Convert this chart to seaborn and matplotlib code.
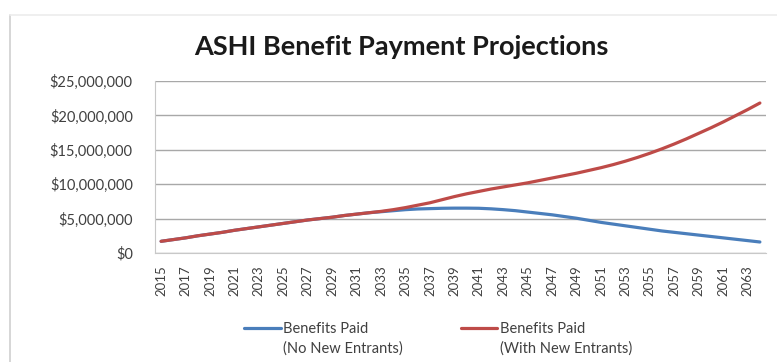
import numpy as np
import pandas as pd
import matplotlib
matplotlib.use("Agg")
import matplotlib.pyplot as plt
import seaborn as sns
from matplotlib.legend_handler import HandlerLine2D
from matplotlib.lines import Line2D
from matplotlib.ticker import FuncFormatter

years = list(range(2015, 2065))
with_new = [1.70, 1.95, 2.20, 2.50, 2.75, 3.00, 3.30, 3.55, 3.80, 4.05,
            4.30, 4.55, 4.80, 5.00, 5.20, 5.45, 5.65, 5.85, 6.05, 6.30,
            6.60, 6.95, 7.30, 7.75, 8.20, 8.60, 8.95, 9.30, 9.60, 9.90,
            10.20, 10.55, 10.90, 11.25, 11.60, 12.00, 12.40, 12.85, 13.35, 13.90,
            14.50, 15.15, 15.85, 16.60, 17.40, 18.20, 19.05, 19.95, 20.85, 21.80]
no_new = [1.70, 1.95, 2.20, 2.50, 2.75, 3.00, 3.30, 3.55, 3.80, 4.05,
          4.30, 4.55, 4.80, 5.00, 5.20, 5.45, 5.65, 5.85, 6.00, 6.15,
          6.30, 6.40, 6.45, 6.50, 6.52, 6.52, 6.50, 6.42, 6.30, 6.15,
          5.95, 5.75, 5.55, 5.30, 5.05, 4.75, 4.45, 4.20, 3.95, 3.70,
          3.45, 3.20, 3.00, 2.80, 2.60, 2.40, 2.20, 2.00, 1.80, 1.60]
series_names = ["Benefits Paid\n(No New Entrants)", "Benefits Paid\n(With New Entrants)"]
title = "ASHI Benefit Payment Projections"

df = pd.DataFrame({
    "Year": years * 2,
    "Value": [v * 1e6 for v in no_new] + [v * 1e6 for v in with_new],
    "Series": [series_names[0]] * len(years) + [series_names[1]] * len(years),
})

sns.set_style("white")
plt.rcParams["font.family"] = ["Lato", "DejaVu Sans"]

fig = plt.figure(figsize=(7.77, 3.62), dpi=100)
ax = fig.add_axes([155 / 777, 1 - 253 / 362, (766 - 155) / 777, (253 - 81) / 362])

palette = {series_names[0]: "#4a7ebb", series_names[1]: "#be4b48"}
sns.lineplot(data=df, x="Year", y="Value", hue="Series", palette=palette,
             linewidth=2.3, ax=ax, legend=False)

ax.set_xlim(2014.5, 2064.5)
ax.set_ylim(0, 25e6)
ax.set_yticks(np.arange(0, 25e6 + 1, 5e6))
ax.yaxis.set_major_formatter(FuncFormatter(lambda v, p: f"${v:,.0f}"))
ax.set_xticks(years)
ax.set_xticklabels([str(y) if (y - 2015) % 2 == 0 else "" for y in years],
                   rotation=90, fontsize=9.5, color="#404040")
ax.tick_params(axis="y", labelsize=10.5, colors="#404040", length=5, width=0.8,
               color="#a8a8a8", pad=11)
ax.tick_params(axis="x", length=3, width=0.6, color="#a8a8a8", pad=6)
ax.grid(axis="y", color="#a8a8a8", linewidth=1.0)
ax.set_axisbelow(True)
for s in ["top", "right"]:
    ax.spines[s].set_visible(False)
ax.spines["left"].set_color("#c8c8c8")
ax.spines["bottom"].set_color("#c8c8c8")
ax.set_xlabel("")
ax.set_ylabel("")

fig.text(401 / 777, 1 - 47 / 362, title, ha="center", va="center",
         fontsize=19.5, fontweight="bold", color="#1a1a1a")

# chart border
fig.add_artist(Line2D([10 / 777, 10 / 777], [0, 1 - 15 / 362], transform=fig.transFigure,
                      color="#cfcfcf", linewidth=1.2))
fig.add_artist(Line2D([10 / 777, 1], [1 - 15 / 362, 1 - 15 / 362], transform=fig.transFigure,
                      color="#ececec", linewidth=1.2))


class FirstLineHandler(HandlerLine2D):
    def create_artists(self, legend, orig_handle, xdescent, ydescent, width, height,
                       fontsize, trans):
        arts = super().create_artists(legend, orig_handle, xdescent, ydescent, width,
                                      height, fontsize, trans)
        for a in arts:
            a.set_ydata(np.asarray(a.get_ydata()) + 7.9)
        return arts


handles = [Line2D([], [], color=palette[n], linewidth=2.3) for n in series_names]
leg = fig.legend(handles, series_names, loc="center", bbox_to_anchor=(438 / 777, 1 - 339 / 362),
                 ncol=2, frameon=False, fontsize=10.5, handlelength=2.5, handletextpad=0.15,
                 columnspacing=4.0, handler_map={Line2D: FirstLineHandler()})
for t in leg.get_texts():
    t.set_linespacing(1.5)
    t.set_color("#404040")

fig.savefig("out.png", dpi=100)
